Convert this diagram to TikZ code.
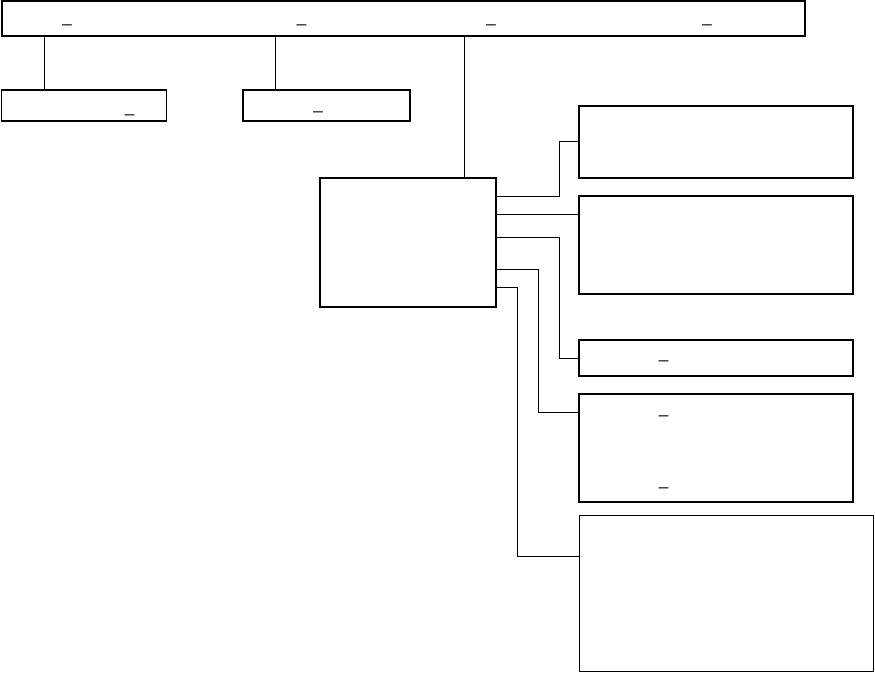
\documentclass[tikz,border=0pt]{standalone}
\usepackage{fontspec}
\setmainfont{Liberation Sans}
\begin{document}
\begin{tikzpicture}[x=1pt,y=-1pt,
  box/.style={draw,line width=1.3pt,inner sep=0pt,fill=white},
  link/.style={draw,line width=1pt},
  us/.style={inner sep=0pt,font=\fontsize{17}{18}\selectfont}]
\useasboundingbox (0,0) rectangle (875,673);
% boxes
\node[box,minimum width=803pt,minimum height=35pt] (top) at (403.5,18.5) {};
\node[box,minimum width=165pt,minimum height=31pt] (A) at (84,105.5) {};
\node[box,minimum width=167pt,minimum height=31pt] (B) at (326.5,105.5) {};
\node[box,minimum width=176pt,minimum height=129pt] (C) at (408,242.5) {};
\node[box,minimum width=274pt,minimum height=72pt] (R1) at (716,142) {};
\node[box,minimum width=274pt,minimum height=98pt] (R2) at (716,245) {};
\node[box,minimum width=274pt,minimum height=36pt] (R3) at (716,358) {};
\node[box,minimum width=274pt,minimum height=108pt] (R4) at (716,448) {};
\node[box,minimum width=294pt,minimum height=156pt] (R5) at (726.5,593.5) {};
% texts (only underscores are visible)
\node[us] (t1) at (67,24.5) {\_};
\node[us] (t2) at (301.5,24.5) {\_};
\node[us] (t3) at (491,24.5) {\_};
\node[us] (t4) at (707,24.5) {\_};
\node[us] (a1) at (129.5,114.5) {\_};
\node[us] (b1) at (318,111.5) {\_};
\node[us] (r31) at (663.5,360.5) {\_};
\node[us] (r41) at (663.5,415.5) {\_};
\node[us] (r42) at (663.5,487.5) {\_};
% connectors
\draw[link] (top.south -| 44,0) -- (A.north -| 44,0);
\draw[link] (top.south -| 275,0) -- (B.north -| 275,0);
\draw[link] (top.south -| 464,0) -- (C.north -| 464,0);
\draw[link] (C.east |- 0,196) -- (559,196) -- (559,141) -- (R1.west |- 0,141);
\draw[link] (C.east |- 0,214) -- (R2.west |- 0,214);
\draw[link] (C.east |- 0,237) -- (559,237) -- (559,358) -- (R3.west |- 0,358);
\draw[link] (C.east |- 0,269) -- (538,269) -- (538,412) -- (R4.west |- 0,412);
\draw[link] (C.east |- 0,287) -- (517,287) -- (517,556) -- (R5.west |- 0,556);
\end{tikzpicture}
\end{document}
